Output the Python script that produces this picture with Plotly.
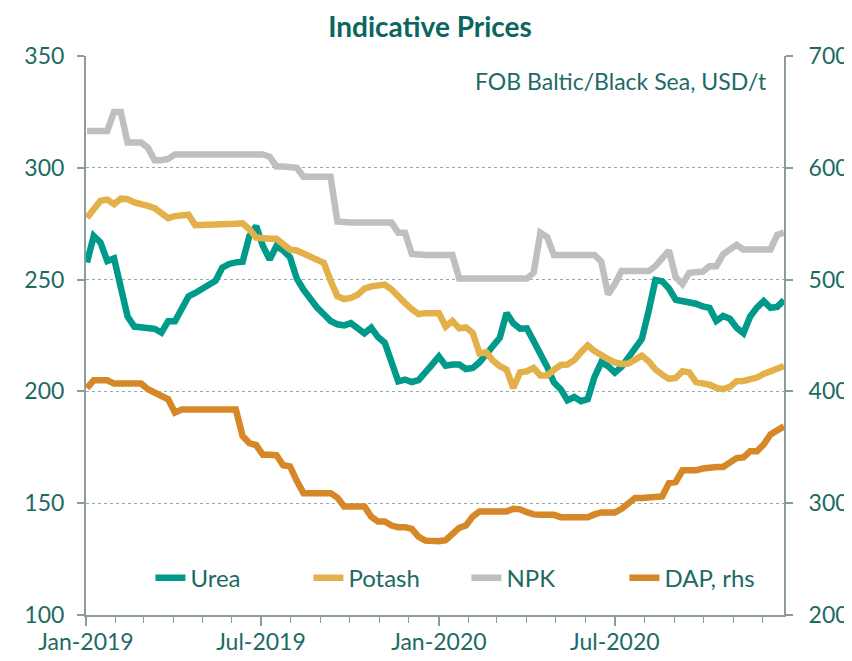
import pandas as pd
import plotly.graph_objects as go

dates = pd.date_range("2019-01-02", periods=104, freq="7D")

urea = [257.7, 269.5, 266.6, 258.3, 259.5, 245.6, 233.5, 229.0, 228.5, 228.0,
        228.0, 226.3, 231.4, 231.4, 237.0, 242.5, 244.0, 246.0, 247.5, 249.5,
        255.4, 257.0, 257.7, 258.0, 269.5, 274.0, 265.0, 259.0, 265.0, 263.0,
        260.0, 250.5, 245.5, 241.0, 237.5, 234.5, 231.5, 230.0, 229.5, 230.5,
        228.5, 226.0, 228.5, 224.3, 221.8, 213.0, 204.5, 205.3, 204.2, 205.0,
        208.0, 212.0, 215.6, 211.5, 212.0, 212.0, 210.0, 210.5, 213.0, 216.5,
        220.0, 224.0, 235.0, 230.5, 228.0, 228.2, 222.5, 217.0, 211.0, 204.0,
        201.0, 196.0, 197.5, 195.6, 196.5, 206.5, 213.0, 211.3, 208.4, 211.0,
        215.0, 220.0, 223.5, 236.0, 249.8, 249.3, 246.0, 241.0, 240.6, 240.0,
        239.2, 238.0, 237.4, 231.5, 233.7, 232.5, 228.5, 226.0, 233.5, 237.5,
        240.4, 237.4, 237.8, 240.8]

potash = [277.7, 282.0, 285.3, 285.8, 283.7, 286.2, 286.0, 284.5, 284.0, 283.0,
          282.0, 279.4, 277.5, 278.4, 278.4, 279.0, 274.3, 274.3, 274.3, 274.3,
          274.3, 274.3, 275.0, 275.2, 272.5, 268.8, 268.3, 268.3, 268.3, 265.5,
          263.4, 263.0, 261.5, 260.5, 258.3, 257.5, 249.5, 242.6, 241.3, 241.8,
          243.2, 246.0, 247.0, 247.3, 247.8, 245.6, 242.0, 239.5, 236.8, 234.6,
          235.0, 235.2, 235.0, 229.0, 231.5, 228.2, 228.6, 226.2, 217.0, 217.5,
          213.7, 211.3, 209.8, 201.5, 208.5, 209.0, 210.5, 207.1, 207.1, 209.6,
          211.8, 212.0, 214.0, 217.5, 220.6, 218.0, 216.0, 214.5, 213.0, 212.3,
          212.5, 214.3, 216.0, 213.5, 209.8, 207.5, 205.6, 206.0, 209.0, 208.5,
          204.2, 203.6, 203.0, 201.6, 201.0, 202.0, 204.6, 204.7, 205.1, 206.2,
          207.8, 209.2, 210.2, 211.3]

npk = [316.5, 316.5, 316.5, 316.5, 325.0, 325.0, 311.3, 311.3, 311.3, 309.0,
       303.4, 303.4, 304.0, 306.0, 306.0, 306.0, 306.0, 306.0, 306.0, 306.0,
       306.0, 306.0, 306.0, 306.0, 306.0, 306.0, 306.0, 305.0, 300.6, 300.6,
       300.6, 300.0, 296.0, 296.0, 296.0, 296.0, 296.0, 276.0, 275.5, 275.5,
       275.5, 275.5, 275.5, 275.5, 275.5, 275.5, 271.0, 271.0, 261.5, 261.0,
       261.0, 261.0, 261.0, 261.0, 261.0, 250.5, 250.5, 250.5, 250.5, 250.5,
       250.5, 250.5, 250.5, 250.5, 250.5, 250.5, 253.0, 271.0, 269.0, 261.0,
       261.0, 261.0, 261.0, 261.0, 261.0, 261.0, 258.0, 243.4, 248.0, 253.8,
       253.8, 253.8, 253.8, 253.8, 256.0, 260.0, 263.0, 251.0, 248.0, 253.0,
       253.4, 253.6, 256.0, 256.0, 261.3, 263.5, 265.5, 263.5, 263.5, 263.5,
       263.5, 263.5, 270.0, 271.0]

dap = [403.0, 410.0, 410.0, 410.0, 407.0, 407.0, 407.0, 407.0, 407.0, 402.0,
       398.7, 397.0, 393.0, 381.0, 383.7, 383.7, 383.7, 383.7, 383.7, 383.7,
       383.7, 383.7, 383.7, 360.0, 353.8, 352.0, 343.3, 343.3, 343.0, 334.0,
       333.0, 320.0, 309.0, 309.0, 309.0, 309.0, 309.0, 305.0, 297.0, 297.0,
       297.0, 297.0, 288.0, 283.6, 283.6, 280.0, 278.6, 278.6, 277.0, 270.0,
       266.5, 266.0, 266.0, 267.0, 273.0, 278.0, 280.0, 288.0, 292.6, 292.6,
       292.6, 292.6, 292.6, 295.0, 294.5, 292.0, 290.0, 289.6, 289.6, 289.6,
       287.5, 287.5, 287.5, 287.5, 287.5, 290.0, 291.7, 291.7, 291.7, 295.0,
       300.0, 304.6, 304.6, 304.6, 304.6, 306.0, 318.0, 319.0, 329.4, 329.4,
       329.4, 331.0, 332.4, 332.4, 332.4, 337.0, 340.4, 341.0, 346.4, 346.4,
       352.5, 361.5, 366.0, 368.7]

x_ticks = ["2019-01-01", "2019-07-01", "2020-01-01", "2020-07-01"]
x_tick_labels = ["Jan-2019", "Jul-2019", "Jan-2020", "Jul-2020"]

TEXT = "#1d6a64"
AXIS = "#8c9c9c"
FONT = "Lato"

fig = go.Figure()
fig.add_trace(go.Scatter(x=dates, y=urea, name="Urea", mode="lines",
                         line=dict(color="#009a8a", width=6.5)))
fig.add_trace(go.Scatter(x=dates, y=potash, name="Potash", mode="lines",
                         line=dict(color="#e3b04a", width=6.5)))
fig.add_trace(go.Scatter(x=dates, y=npk, name="NPK", mode="lines",
                         line=dict(color="#bfbfbf", width=6.5)))
fig.add_trace(go.Scatter(x=dates, y=dap, name="DAP, rhs", mode="lines", yaxis="y2",
                         line=dict(color="#d68727", width=6.5)))

# The page body adds an 8px offset, so the figure is sized to fit the window.
fig.update_layout(
    width=844, height=653,
    margin=dict(l=78, r=68, t=48, b=46, autoexpand=False),
    paper_bgcolor="white", plot_bgcolor="white",
    font=dict(family=FONT, size=23, color=TEXT),
    title=dict(text="<b>Indicative Prices</b>", x=0.5, xanchor="center",
               y=0.971, yref="container", yanchor="middle",
               font=dict(size=28, color="#0b665d", family=FONT)),
    showlegend=True,
    legend=dict(orientation="h", x=0.545, xanchor="center", y=0.066, yanchor="middle",
                bgcolor="rgba(0,0,0,0)", font=dict(size=24, color=TEXT),
                entrywidth=113, entrywidthmode="pixels"),
    xaxis=dict(type="date", range=["2019-01-01", "2020-12-23"],
               tickvals=x_ticks, ticktext=x_tick_labels, automargin=False,
               showline=True, linecolor=AXIS, linewidth=2,
               ticks="outside", ticklen=9, tickcolor=AXIS, tickwidth=2,
               ticklabelstandoff=-4,
               minor=dict(dtick="M1", tick0="2019-01-01", ticks="outside",
                          ticklen=6, tickcolor=AXIS, tickwidth=1, showgrid=False),
               showgrid=False, zeroline=False),
    yaxis=dict(range=[100, 350], dtick=50, tick0=100, automargin=False,
               showline=True, linecolor=AXIS, linewidth=2,
               ticks="outside", ticklen=7, tickcolor=AXIS, tickwidth=2,
               ticklabelstandoff=8,
               showgrid=True, gridcolor="#9aaaaa", griddash="dot", gridwidth=1,
               zeroline=False),
    yaxis2=dict(range=[200, 700], dtick=100, tick0=200, overlaying="y", side="right",
                automargin=False,
                showline=True, linecolor=AXIS, linewidth=2,
                ticks="outside", ticklen=7, tickcolor=AXIS, tickwidth=2,
                showgrid=False, zeroline=False, ticklabelstandoff=11),
    annotations=[dict(text="FOB Baltic/Black Sea, USD/t", x=0.978, xref="paper",
                      xanchor="right", y=0.955, yref="paper", yanchor="middle",
                      showarrow=False, font=dict(size=23, color=TEXT, family=FONT))],
)

fig.write_html("out.html")
